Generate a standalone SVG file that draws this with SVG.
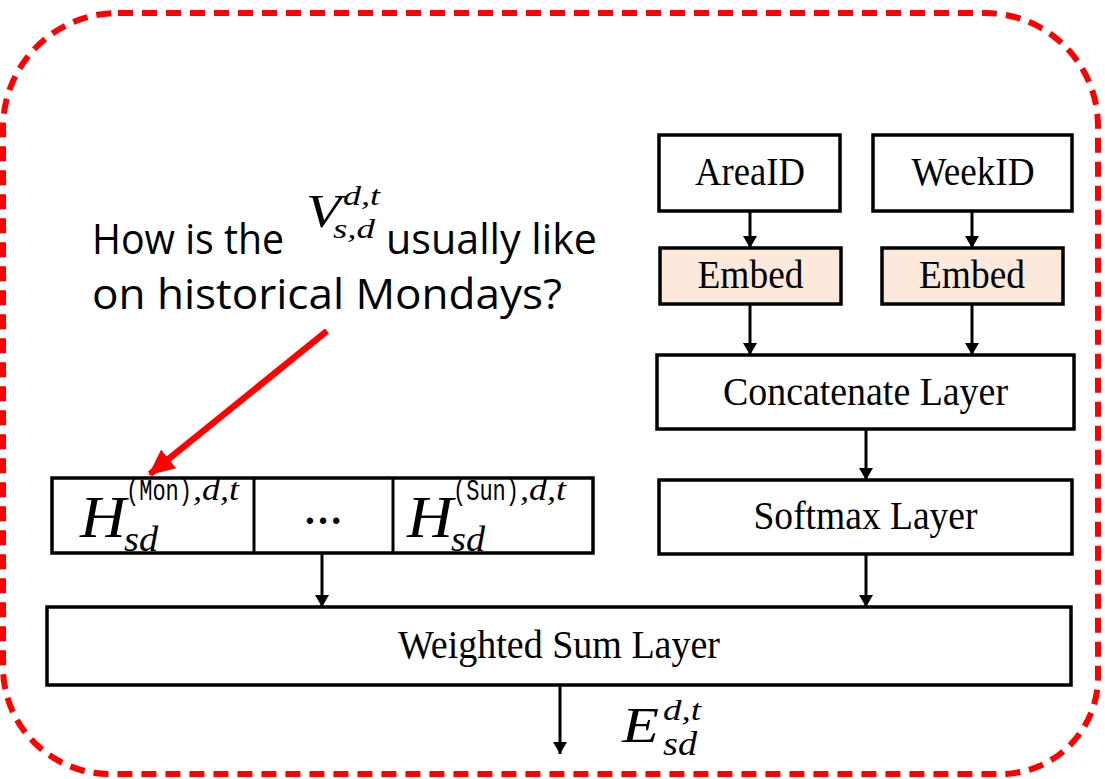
<svg xmlns="http://www.w3.org/2000/svg" width="1105" height="779" viewBox="0 0 1105 779">
  <defs>
    <marker id="arrow" viewBox="0 0 12 14" refX="12" refY="7" markerWidth="12" markerHeight="14" markerUnits="userSpaceOnUse" orient="auto">
      <path d="M0,0 L12,7 L0,14 Z" fill="#000"/>
    </marker>
    <marker id="redArrow" viewBox="0 0 26 24" refX="24" refY="12" markerWidth="26" markerHeight="24" markerUnits="userSpaceOnUse" orient="auto">
      <path d="M0,0 L26,12 L0,24 Z" fill="#ff0000"/>
    </marker>
  </defs>
  <style>
    .box { fill: #fff; stroke: #000; stroke-width: 3.5; }
    .embed { fill: #fce9dc; stroke: #000; stroke-width: 3.5; }
    .lbl { font-family: "Liberation Serif", "Times New Roman", serif; font-size: 39px; fill: #000; text-anchor: middle; }
    .math { font-family: "Liberation Serif", "Times New Roman", serif; font-style: italic; fill: #000; }
    .mono { font-family: "Liberation Mono", "Courier New", monospace; font-style: normal; }
    .note { font-family: "Open Sans", "Noto Sans", "Liberation Sans", sans-serif; font-size: 42px; fill: #000; }
    .edge { stroke: #000; stroke-width: 3; fill: none; marker-end: url(#arrow); }
  </style>

  <rect width="1105" height="779" fill="#fff"/>

  <!-- dashed red frame -->
  <g id="frame">
    <path d="M118,13 H985 A113,113 0 0 1 1098,126 V677 A97,97 0 0 1 1001,774 H110 A107,107 0 0 1 3,667 V128 A115,115 0 0 1 118,13 Z"
          fill="none" stroke="#ff0000" stroke-width="6" stroke-dasharray="15 9"/>
  </g>

  <!-- question annotation -->
  <g id="question">
    <text class="note" x="92" y="254" textLength="192" lengthAdjust="spacingAndGlyphs">How is the</text>
    <text class="math" x="306" y="227" font-size="46" fill="#333" textLength="35" lengthAdjust="spacingAndGlyphs">V</text>
    <text class="math" x="343" y="205" font-size="28" fill="#333" textLength="37" lengthAdjust="spacingAndGlyphs">d,t</text>
    <text class="math" x="333" y="238" font-size="28" fill="#333" textLength="42" lengthAdjust="spacingAndGlyphs">s,d</text>
    <text class="note" x="386" y="254" textLength="211" lengthAdjust="spacingAndGlyphs">usually like</text>
    <text class="note" x="92" y="309" textLength="470" lengthAdjust="spacingAndGlyphs">on historical Mondays?</text>
    <line x1="327" y1="331" x2="150" y2="474" stroke="#ff0000" stroke-width="6.5" marker-end="url(#redArrow)"/>
  </g>

  <!-- input ids -->
  <g id="area-id">
    <rect class="box" x="659" y="135" width="181" height="76"/>
    <text class="lbl" x="750" y="185" textLength="110" lengthAdjust="spacingAndGlyphs">AreaID</text>
  </g>
  <g id="week-id">
    <rect class="box" x="873" y="135" width="199" height="76"/>
    <text class="lbl" x="973" y="185" textLength="123" lengthAdjust="spacingAndGlyphs">WeekID</text>
  </g>

  <!-- embedding layers -->
  <g id="embed-area">
    <rect class="embed" x="660" y="248" width="181" height="56"/>
    <text class="lbl" x="750.5" y="288" textLength="106" lengthAdjust="spacingAndGlyphs">Embed</text>
  </g>
  <g id="embed-week">
    <rect class="embed" x="882" y="248" width="181" height="56"/>
    <text class="lbl" x="972" y="288" textLength="106" lengthAdjust="spacingAndGlyphs">Embed</text>
  </g>

  <g id="concat">
    <rect class="box" x="657" y="355" width="417" height="74"/>
    <text class="lbl" x="865.5" y="405" textLength="285" lengthAdjust="spacingAndGlyphs">Concatenate Layer</text>
  </g>

  <g id="softmax">
    <rect class="box" x="659" y="480" width="413" height="74"/>
    <text class="lbl" x="865.5" y="529" textLength="224" lengthAdjust="spacingAndGlyphs">Softmax Layer</text>
  </g>

  <!-- historical day-of-week states -->
  <g id="history">
    <rect class="box" x="52" y="478" width="541" height="75"/>
    <line x1="254" y1="478" x2="254" y2="553" stroke="#000" stroke-width="3"/>
    <line x1="393" y1="478" x2="393" y2="553" stroke="#000" stroke-width="3"/>
    <text class="math" x="80" y="537" font-size="60" textLength="46" lengthAdjust="spacingAndGlyphs">H</text>
    <text class="math" y="500" font-size="31"><tspan class="mono" x="126" font-size="29" textLength="66" lengthAdjust="spacingAndGlyphs">(Mon)</tspan><tspan x="193" textLength="46" lengthAdjust="spacingAndGlyphs">,d,t</tspan></text>
    <text class="math" x="124" y="551" font-size="35" textLength="34" lengthAdjust="spacingAndGlyphs">sd</text>
    <text class="lbl" x="323" y="524" font-size="40" font-weight="bold">…</text>
    <text class="math" x="407" y="537" font-size="60" textLength="46" lengthAdjust="spacingAndGlyphs">H</text>
    <text class="math" y="500" font-size="31"><tspan class="mono" x="453" font-size="29" textLength="66" lengthAdjust="spacingAndGlyphs">(Sun)</tspan><tspan x="520" textLength="46" lengthAdjust="spacingAndGlyphs">,d,t</tspan></text>
    <text class="math" x="451" y="551" font-size="35" textLength="34" lengthAdjust="spacingAndGlyphs">sd</text>
  </g>

  <g id="weighted-sum">
    <rect class="box" x="47" y="607" width="1024" height="78"/>
    <text class="lbl" x="559" y="658" textLength="322" lengthAdjust="spacingAndGlyphs">Weighted Sum Layer</text>
  </g>

  <!-- output embedding -->
  <g id="output">
    <text class="math" x="622" y="742" font-size="50" textLength="37" lengthAdjust="spacingAndGlyphs">E</text>
    <text class="math" x="663" y="720" font-size="30" textLength="38" lengthAdjust="spacingAndGlyphs">d,t</text>
    <text class="math" x="663" y="755" font-size="34" textLength="34" lengthAdjust="spacingAndGlyphs">sd</text>
  </g>

  <!-- connectors -->
  <g id="connectors">
    <line class="edge" x1="750" y1="211" x2="750" y2="248"/>
    <line class="edge" x1="972" y1="211" x2="972" y2="248"/>
    <line class="edge" x1="750" y1="304" x2="750" y2="355"/>
    <line class="edge" x1="972" y1="304" x2="972" y2="355"/>
    <line class="edge" x1="866" y1="429" x2="866" y2="480"/>
    <line class="edge" x1="866" y1="554" x2="866" y2="607"/>
    <line class="edge" x1="322" y1="553" x2="322" y2="607"/>
    <line class="edge" x1="560" y1="685" x2="560" y2="754"/>
  </g>
</svg>
